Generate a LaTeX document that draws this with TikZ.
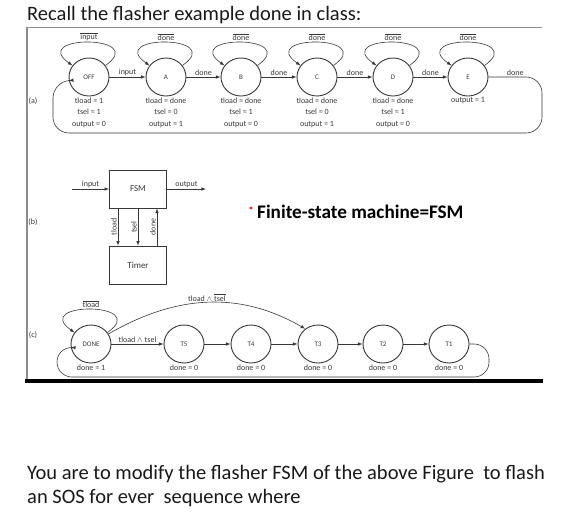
\documentclass[tikz,border=0pt]{standalone}
\usepackage{fontspec}
\setmainfont{Carlito}
\definecolor{framegray}{RGB}{140,140,140}
\definecolor{linegray}{RGB}{55,55,55}
\definecolor{bulletred}{RGB}{225,35,35}
\usetikzlibrary{shapes,arrows,positioning,calc}

\tikzset{
  fsmstate/.style={ellipse, draw=linegray, line width=0.9pt, minimum width=40pt, minimum height=38pt, inner sep=0pt, font=\fontsize{7}{8}\selectfont, text=linegray},
  lbl/.style={font=\fontsize{8}{11.5}\selectfont, text=linegray, inner sep=1pt},
  trans/.style={->, >=latex, draw=linegray, line width=0.6pt},
  selfloop/.style={trans, out=35, in=145, looseness=4.2},
  blk/.style={draw=linegray, line width=0.8pt, minimum width=57pt, minimum height=38pt, font=\fontsize{9}{10}\selectfont, text=linegray},
  slidetext/.style={font=\fontsize{20.5}{24}\selectfont, text=black!90, inner sep=0pt, anchor=base west}
}

\begin{document}
\begin{tikzpicture}[x=1pt, y=-1pt]
    \useasboundingbox (0,0) rectangle (588,523);

    % Heading
    \node[slidetext] (title) at (27,20) {Recall the flasher example done in class:};

    % Figure frame
    \draw[framegray, line width=0.8pt] (27,27) -- (542,27);
    \draw[framegray, line width=1.6pt] (27,27) -- (27,380);

    % (a) flasher FSM
    \node[lbl] (la) at (33,101) {(a)};
    \foreach \n/\x in {OFF/89, A/166, B/241, C/317, D/393, E/468}
        \node[fsmstate] (\n) at (\x,77) {\n};
    \foreach \n/\t in {OFF/input, A/done, B/done, C/done, D/done, E/done}
        \draw[selfloop] (\n.35) to node[lbl, above] {$\overline{\mbox{\t}}$} (\n.145);
    \draw[trans] (OFF) -- node[lbl, above] {input} (A);
    \draw[trans] (A) -- node[lbl, above] {done} (B);
    \draw[trans] (B) -- node[lbl, above] {done} (C);
    \draw[trans] (C) -- node[lbl, above] {done} (D);
    \draw[trans] (D) -- node[lbl, above] {done} (E);
    \draw[trans, rounded corners=16pt] (E.east) -- node[lbl, above] {done} (542,77)
        -- (542,133) -- (53,133) -- (53,82) -- (OFF.190);

    \node[lbl, align=center, below=0pt of OFF] (OFFout) {tload = 1\\tsel = 1\\output = 0};
    \node[lbl, align=center, below=0pt of A] (Aout) {tload = done\\tsel = 0\\output = 1};
    \node[lbl, align=center, below=0pt of B] (Bout) {tload = done\\tsel = 1\\output = 0};
    \node[lbl, align=center, below=0pt of C] (Cout) {tload = done\\tsel = 0\\output = 1};
    \node[lbl, align=center, below=0pt of D] (Dout) {tload = done\\tsel = 1\\output = 0};
    \node[lbl, align=center, below=0pt of E] (Eout) {output = 1};

    % (b) FSM and timer
    \node[lbl] (lb) at (33,222) {(b)};
    \node[blk] (FSM) at (138,189) {FSM};
    \node[blk] (Timer) at (138,265) {Timer};
    \coordinate (fsmin) at (72,189);
    \coordinate (fsmout) at (206,189);
    \draw[trans] (fsmin) -- node[lbl, above] {input} (FSM);
    \draw[trans] (FSM) -- node[lbl, above] {output} (fsmout);
    \draw[trans] ([xshift=-20pt]FSM.south) -- node[lbl, rotate=90, above] {tload} ([xshift=-20pt]Timer.north);
    \draw[trans] (FSM.south) -- node[lbl, rotate=90, above] {tsel} (Timer.north);
    \draw[trans] ([xshift=19pt]Timer.north) -- node[lbl, rotate=90, above] {done} ([xshift=19pt]FSM.south);

    \node[circle, fill=bulletred, inner sep=1.2pt] (bullet) at (251,208) {};
    \node[font=\fontsize{19.2}{21}\selectfont\bfseries, anchor=west, inner sep=0pt] (fsmdef) at (257,212) {Finite-state machine=FSM};

    % (c) timer FSM
    \node[lbl] (lc) at (33,335) {(c)};
    \foreach \n/\x in {DONE/91, T5/184, T4/251, T3/318, T2/383, T1/449}
        \node[fsmstate] (\n) at (\x,344) {\n};
    \draw[selfloop] (DONE.35) to node[lbl, above] {$\overline{\mbox{tload}}$} (DONE.145);
    \draw[trans] (DONE) -- node[lbl, above] {tload $\wedge$ tsel} (T5);
    \draw[trans] (T5) -- (T4);
    \draw[trans] (T4) -- (T3);
    \draw[trans] (T3) -- (T2);
    \draw[trans] (T2) -- (T1);
    \draw[trans] (DONE.30) to[out=30, in=150] node[lbl, above] {tload $\wedge$ $\overline{\mbox{tsel}}$} (T3.130);
    \draw[trans, rounded corners=15pt] (T1.east) -- (489,344) -- (489,377)
        -- (57,377) -- (57,347) -- (DONE.190);

    \node[lbl, below=0pt of DONE] (DONEout) {done = 1};
    \foreach \n in {T5, T4, T3, T2, T1}
        \node[lbl, below=0pt of \n] (\n out) {done = 0};

    \draw[black, line width=4.5pt] (25,381) -- (543,381);

    % Task text
    \node[slidetext] (task1) at (27,479) {You are to modify the flasher FSM of the above Figure \ to flash};
    \node[slidetext] (task2) at (27,503) {an SOS for ever \ sequence where};
\end{tikzpicture}
\end{document}
